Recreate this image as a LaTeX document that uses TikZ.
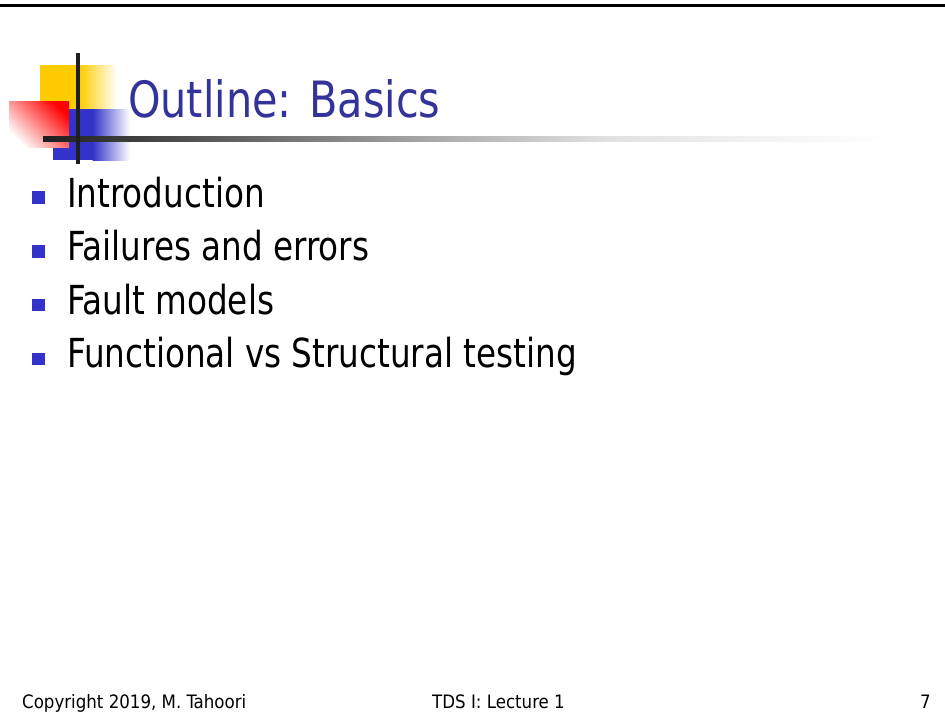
\documentclass[tikz,border=0pt]{standalone}
\usepackage{fontspec}
\setmainfont{DejaVu Sans Condensed}
\newfontfamily\titlefont[FakeStretch=0.92]{DejaVu Sans Condensed}
\newfontfamily\bodyfont[FakeStretch=0.907]{DejaVu Sans Condensed}
\definecolor{titleblue}{HTML}{333399}
\definecolor{bulletblue}{HTML}{3333CC}
\definecolor{sqyellow}{HTML}{FFCC00}
\definecolor{sqblue}{HTML}{3333CC}
% horizontal rule: dark on the left, fading to white on the right
\pgfdeclarehorizontalshading{rulefade}{100bp}{%
  color(0bp)=(black!88); color(25bp)=(black!88); color(34bp)=(black!67);
  color(49bp)=(black!31); color(58bp)=(black!12); color(64bp)=(black!7);
  color(75bp)=(white); color(100bp)=(white)}
\tikzset{
  bullettext/.style={anchor=base west, inner sep=0pt, font=\bodyfont\fontsize{40}{48}\selectfont},
  bulletsq/.style={fill=bulletblue, minimum size=12.5pt, inner sep=0pt, draw=none},
  foot/.style={anchor=base west, inner sep=0pt, font=\fontsize{18.5}{22}\selectfont},
}
\begin{document}
\begin{tikzpicture}[x=1pt,y=-1pt]
\useasboundingbox (0,0) rectangle (945,720);
\fill[white] (0,0) rectangle (945,720);
% top border
\fill[black] (0,3.5) rectangle (945,6.5);
% logo: yellow and blue blocks with fading right halves
\fill[sqyellow] (40,65) rectangle (80,109);
\shade[left color=sqyellow, right color=white] (79.5,65) rectangle (117,109);
\fill[sqblue] (53,109) rectangle (93,159.5);
\shade[left color=sqblue, right color=white] (92.5,109) rectangle (130,160);
% red block, diagonal fade
\shade[top color=red, bottom color=white, shading angle=-45] (9,101) rectangle (69,147);
% rule under the title
\shade[shading=rulefade] (43,136.5) rectangle (893,141.5);
% vertical bar
\fill[black!88] (76,53) rectangle (80,164);
% title
\node[anchor=base west, inner sep=0pt, text=titleblue, font=\titlefont\fontsize{50}{58}\selectfont] (title) at (128,117.5) {Outline: Basics};
% bullet list
\node[bulletsq] (b1) at (38.5,197.5) {};
\node[bullettext] (t1) at (67,207) {Introduction};
\node[bulletsq] (b2) at (38.5,251.5) {};
\node[bullettext] (t2) at (67,260.5) {Failures and errors};
\node[bulletsq] (b3) at (38.5,305) {};
\node[bullettext] (t3) at (67,314) {Fault models};
\node[bulletsq] (b4) at (38.5,359) {};
\node[bullettext] (t4) at (67,367.5) {Functional vs Structural testing};
% footer
\node[foot] (copy) at (22,708) {Copyright 2019, M. Tahoori};
\node[foot] (lect) at (432,708) {TDS I: Lecture 1};
\node[foot] (page) at (920,708) {7};
\end{tikzpicture}
\end{document}
